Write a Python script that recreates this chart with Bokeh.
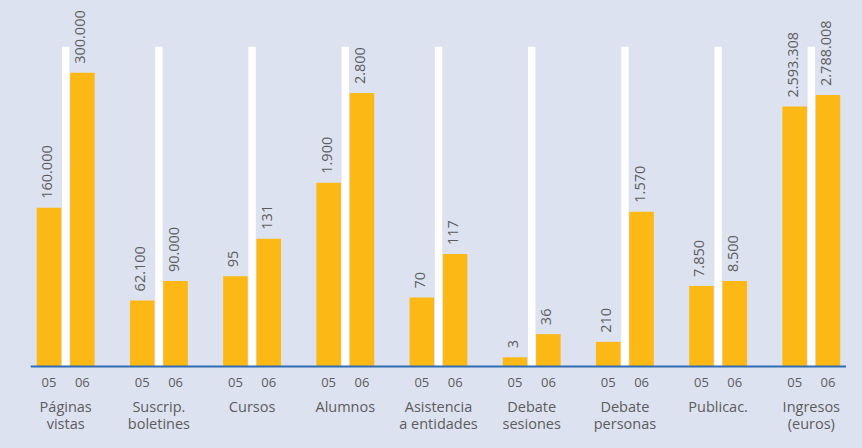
import math
from bokeh.plotting import figure
from bokeh.models import FactorRange, Range1d, Span, ColumnDataSource
from bokeh.core.properties import value
from bokeh.embed import file_html
from bokeh.resources import INLINE

# ---- data ----
categories = ["Páginas vistas", "Suscrip. boletines", "Cursos", "Alumnos",
              "Asistencia a entidades", "Debate sesiones", "Debate personas",
              "Publicac.", "Ingresos (euros)"]
category_labels = ["Páginas\nvistas", "Suscrip.\nboletines", "Cursos", "Alumnos",
                   "Asistencia\na entidades", "Debate\nsesiones", "Debate\npersonas",
                   "Publicac.", "Ingresos\n(euros)"]
years = ["05", "06"]
# bar heights (index units, as drawn in the picture)
heights_05 = [164.5, 68.5, 93.5, 190.5, 71.5, 9.5, 25.5, 83.5, 269.5]
heights_06 = [304.5, 88.5, 132.5, 283.5, 116.5, 33.5, 160.5, 88.5, 281.5]
labels_05 = ["160.000", "62.100", "95", "1.900", "70", "3", "210", "7.850", "2.593.308"]
labels_06 = ["300.000", "90.000", "131", "2.800", "117", "36", "1.570", "8.500", "2.788.008"]
separator_top = 331.5

BG = "#dde2f0"
BAR = "#fcb814"
TXT = "#5c5c5c"
FONT = value("Open Sans")

factors = [(c, y) for c in categories for y in years]
tops = []
texts = []
for i in range(len(categories)):
    tops += [heights_05[i], heights_06[i]]
    texts += [labels_05[i], labels_06[i]]
src = ColumnDataSource(dict(x=factors, top=tops, label=texts,
                            yr=[f[1] for f in factors]))

xr = FactorRange(*factors, factor_padding=0.36, group_padding=1.44,
                 range_padding=0.255, range_padding_units="absolute")
p = figure(width=846, height=432, x_range=xr, y_range=Range1d(-68.5, 379.5),
           output_backend="svg", toolbar_location=None,
           x_axis_location=None, y_axis_location=None,
           min_border_left=30, min_border_right=0, min_border_top=0, min_border_bottom=0)
p.background_fill_color = BG
p.border_fill_color = BG
p.outline_line_color = None
p.grid.visible = False

# white separators
p.vbar(x=categories, top=[separator_top] * len(categories), bottom=0, width=0.3,
       fill_color="white", line_color=None)
# bars
p.vbar(x="x", top="top", bottom=0, width=1.0, source=src, fill_color=BAR, line_color=None)
# baseline
p.add_layout(Span(location=0, dimension="width", line_color="#2f6db3", line_width=2))

# value labels (rotated)
p.text(x="x", y="top", text="label", source=src, angle=math.pi / 2,
       text_align="left", text_baseline="middle", x_offset=-2, y_offset=-9,
       text_font=FONT, text_font_size="14.5px", text_color=TXT)
# year labels
p.text(x="x", y=-17, text="yr", source=src, text_align="center", text_baseline="middle",
       text_font=FONT, text_font_size="13px", text_color=TXT)
# category labels
p.text(x=categories, y=[-32] * len(categories), text=category_labels,
       text_align="center", text_baseline="top", text_line_height=0.9,
       text_font=FONT, text_font_size="14.5px", text_color=TXT)

html = file_html(p, INLINE)
html = html.replace("<head>", "<head><style>html,body{background:%s;}</style>" % BG, 1)
open("out.html", "w").write(html)
